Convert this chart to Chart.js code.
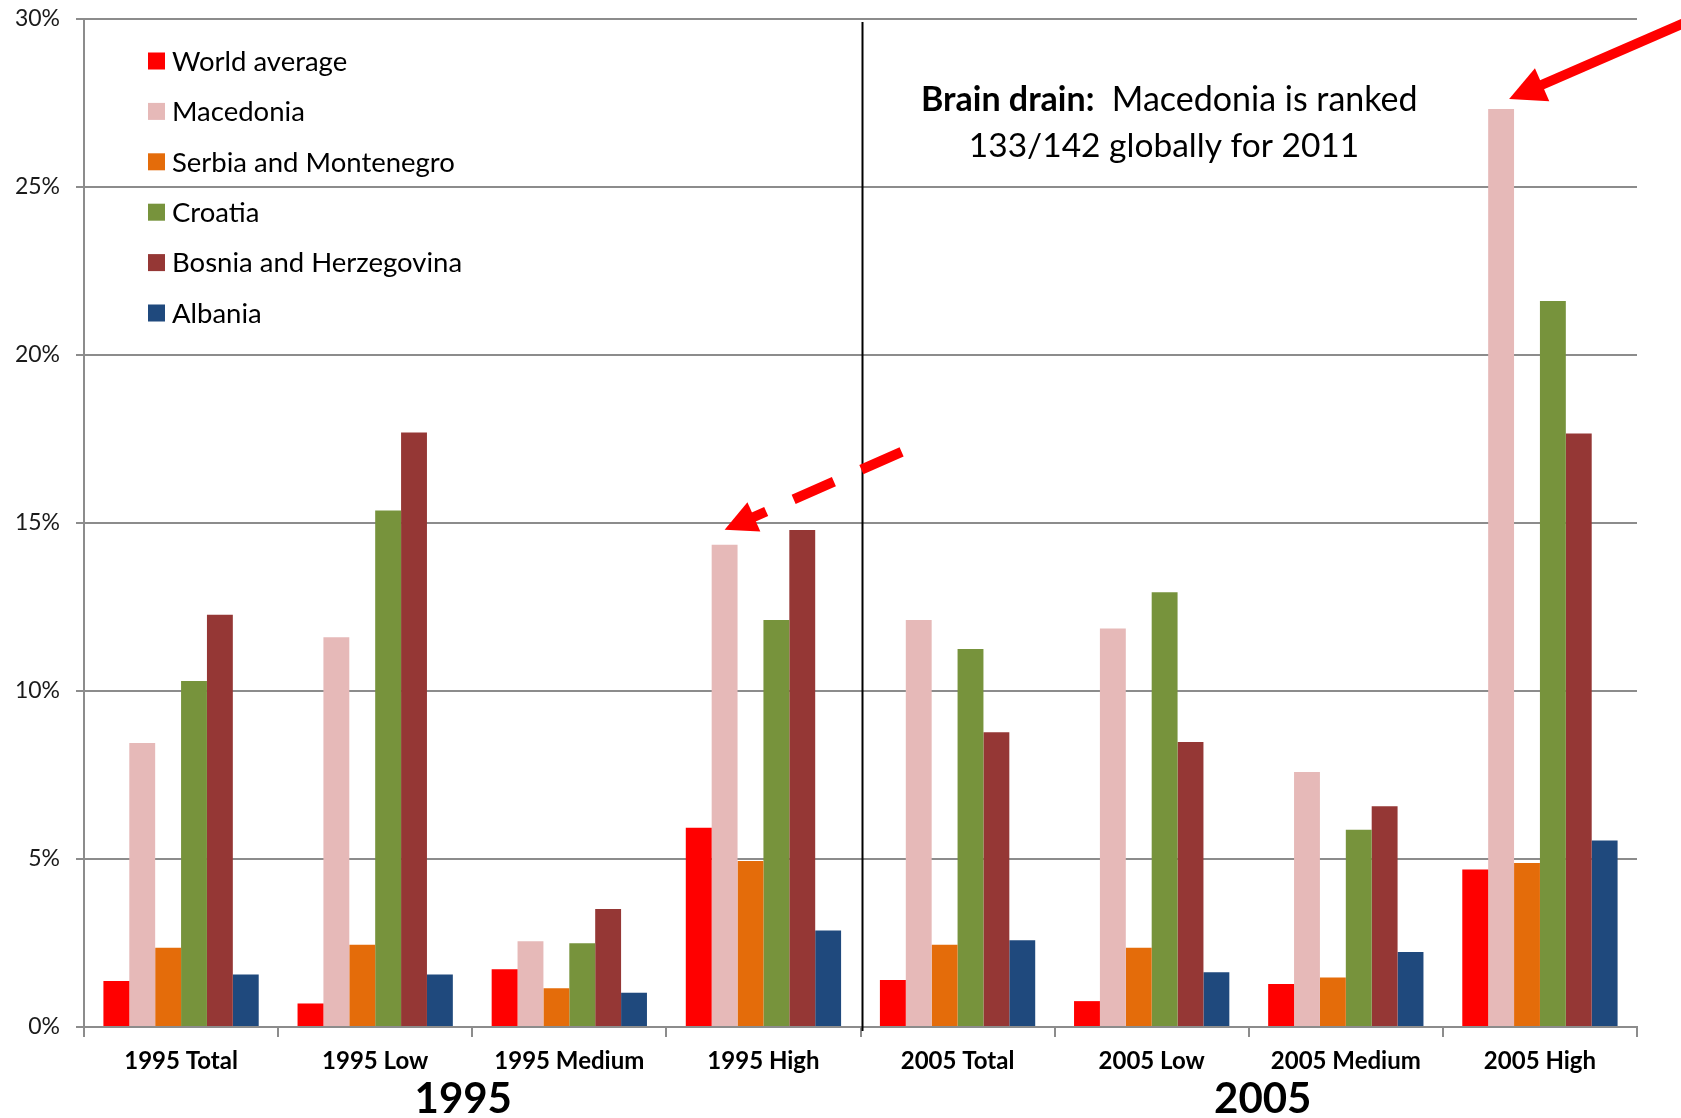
<!DOCTYPE html>
<html>
<head>
<meta charset="utf-8">
<title>Brain drain by education level, 1995 and 2005</title>
<script src="https://cdn.jsdelivr.net/npm/chart.js@4/dist/chart.umd.min.js"></script>
<style>
  html, body { margin: 0; padding: 0; background: #ffffff; }
  #wrap { width: 1681px; height: 1118px; position: relative; }
</style>
</head>
<body>
<div id="wrap"><canvas id="chart" width="1681" height="1118"></canvas></div>
<script>
// Emigration rates (%) by education level
const categories = ['1995 Total', '1995 Low', '1995 Medium', '1995 High',
                    '2005 Total', '2005 Low', '2005 Medium', '2005 High'];
const worldAverage      = [1.37, 0.70, 1.72, 5.93, 1.40, 0.77, 1.28, 4.69];
const macedonia         = [8.45, 11.60, 2.55, 14.35, 12.11, 11.86, 7.59, 27.32];
const serbiaMontenegro  = [2.36, 2.45, 1.15, 4.94, 2.45, 2.36, 1.47, 4.88];
const croatia           = [10.30, 15.37, 2.49, 12.11, 11.25, 12.94, 5.87, 21.61];
const bosniaHerzegovina = [12.27, 17.69, 3.51, 14.79, 8.77, 8.48, 6.57, 17.66];
const albania           = [1.56, 1.56, 1.02, 2.87, 2.58, 1.63, 2.23, 5.55];
const yTicks = [0, 5, 10, 15, 20, 25, 30];
const periodLabels = ['1995', '2005'];
const noteBold = 'Brain drain:';
const noteRest = '  Macedonia is ranked';
const noteLine2 = '133/142 globally for 2011';

const FONT = 'Lato, "Open Sans", sans-serif';
const GRID = '#8c8c8c';
const RED = '#ff0000';

function drawArrow(ctx, x0, y0, x1, y1, width, headLen, headHalf, dash) {
  const dx = x1 - x0, dy = y1 - y0, len = Math.hypot(dx, dy);
  const ux = dx / len, uy = dy / len;
  const bx = x1 - ux * headLen, by = y1 - uy * headLen;
  ctx.save();
  ctx.strokeStyle = RED;
  ctx.fillStyle = RED;
  ctx.lineWidth = width;
  ctx.lineCap = 'butt';
  ctx.setLineDash(dash || []);
  ctx.beginPath();
  ctx.moveTo(x0, y0);
  ctx.lineTo(bx + ux * 2, by + uy * 2);
  ctx.stroke();
  ctx.setLineDash([]);
  ctx.beginPath();
  ctx.moveTo(x1, y1);
  ctx.lineTo(bx - uy * headHalf, by + ux * headHalf);
  ctx.lineTo(bx + uy * headHalf, by - ux * headHalf);
  ctx.closePath();
  ctx.fill();
  ctx.restore();
}

// Legend drawn as a column inside the plot area
const insetLegend = {
  id: 'insetLegend',
  afterDraw(chart) {
    const ctx = chart.ctx, a = chart.chartArea;
    ctx.save();
    ctx.font = '27.5px ' + FONT;
    ctx.textBaseline = 'middle';
    chart.data.datasets.forEach((ds, i) => {
      const y = a.top + 42 + i * 50.4;
      ctx.fillStyle = ds.backgroundColor;
      ctx.fillRect(a.left + 64, y - 8.5, 17, 17);
      ctx.fillStyle = '#000';
      ctx.fillText(ds.label, a.left + 88, y + 1);
    });
    ctx.restore();
  }
};

// Period divider, period labels, note and arrows
const notes = {
  id: 'notes',
  afterDraw(chart) {
    const ctx = chart.ctx, a = chart.chartArea;
    const xs = chart.scales.x;

    // divider between the 1995 and 2005 groups
    const xd = xs.getPixelForValue(3.5) + 2;
    ctx.save();
    ctx.strokeStyle = '#000';
    ctx.lineWidth = 2;
    ctx.beginPath();
    ctx.moveTo(xd, a.top + 3);
    ctx.lineTo(xd, a.bottom + 4);
    ctx.stroke();
    ctx.restore();

    // period labels under the category labels
    ctx.save();
    ctx.fillStyle = '#000';
    ctx.font = 'bold 42px ' + FONT;
    ctx.textAlign = 'center';
    ctx.textBaseline = 'middle';
    ctx.fillText(periodLabels[0], xs.getPixelForValue(1.5) - 9, 1099);
    ctx.fillText(periodLabels[1], xs.getPixelForValue(5.5) + 14, 1099);
    ctx.restore();

    // note text
    ctx.save();
    ctx.fillStyle = '#000';
    ctx.textBaseline = 'middle';
    ctx.font = 'bold 34px ' + FONT;
    ctx.fillText(noteBold, 921, 100);
    const wb = ctx.measureText(noteBold).width;
    ctx.font = '34px ' + FONT;
    ctx.fillText(noteRest, 921 + wb, 100);
    ctx.font = '33.5px ' + FONT;
    ctx.textAlign = 'center';
    ctx.fillText(noteLine2, 1164, 146);
    ctx.restore();

    // arrows pointing at the Macedonia bars
    const mac = chart.getDatasetMeta(1).data;
    const hi05 = mac[7], hi95 = mac[3];
    const t1x = hi05.x + 8, t1y = hi05.y - 10;
    drawArrow(ctx, t1x + 191, t1y - 83, t1x, t1y, 10, 36, 18);
    const t2x = hi95.x, t2y = hi95.y - 15;
    drawArrow(ctx, t2x + 177, t2y - 78, t2x, t2y, 10, 32, 16, [44, 30]);
  }
};

function build() {
  const colors = ['#ff0000', '#e6b9b8', '#e46c0a', '#77933c', '#953735', '#1f497d'];
  const names = ['World average', 'Macedonia', 'Serbia and Montenegro', 'Croatia',
                 'Bosnia and Herzegovina', 'Albania'];
  const series = [worldAverage, macedonia, serbiaMontenegro, croatia, bosniaHerzegovina, albania];

  new Chart(document.getElementById('chart'), {
    type: 'bar',
    data: {
      labels: categories,
      datasets: series.map((d, i) => ({
        label: names[i],
        data: d,
        backgroundColor: colors[i],
        borderWidth: 0,
        categoryPercentage: 0.8,
        barPercentage: 1.0
      }))
    },
    options: {
      responsive: false,
      animation: false,
      devicePixelRatio: 1,
      layout: { padding: { top: 19, right: 44, left: 0, bottom: 0 } },
      plugins: {
        legend: { display: false },
        tooltip: { enabled: false },
        title: { display: false }
      },
      scales: {
        x: {
          grid: { offset: true, drawOnChartArea: false, drawTicks: true, tickLength: 10,
                  color: GRID, lineWidth: 2 },
          border: { color: GRID, width: 2 },
          ticks: { font: { family: FONT, size: 24, weight: 'bold' }, color: '#000',
                   padding: 10, maxRotation: 0, autoSkip: false },
          afterFit(s) { s.height = 91; s.paddingLeft = 0; s.paddingRight = 0; }
        },
        y: {
          min: yTicks[0],
          max: yTicks[yTicks.length - 1],
          afterBuildTicks(s) { s.ticks = yTicks.map(v => ({ value: v })); },
          ticks: { callback: v => v + '%', font: { family: FONT, size: 23 }, color: '#1a1a1a',
                   padding: 16 },
          grid: { color: GRID, lineWidth: 2, tickLength: 8 },
          border: { color: GRID, width: 2 },
          afterFit(s) { s.width = 84; s.paddingTop = 0; s.paddingBottom = 0; }
        }
      }
    },
    plugins: [insetLegend, notes]
  });
}

Promise.all([
  document.fonts.load('27px Lato'),
  document.fonts.load('bold 27px Lato')
]).then(build, build);
</script>
</body>
</html>
